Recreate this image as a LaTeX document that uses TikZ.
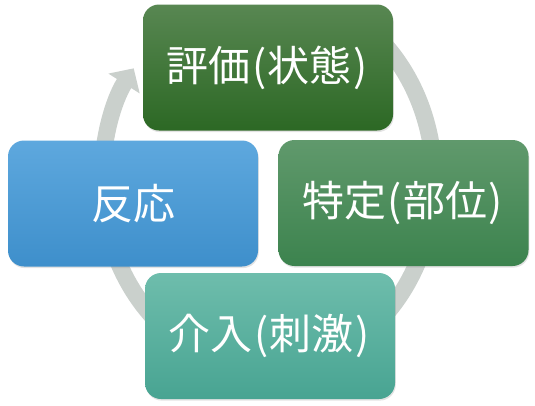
\documentclass[tikz,border=0pt]{standalone}
\usepackage{fontspec}
\newfontfamily\jpfont{Noto Sans CJK JP}
\usetikzlibrary{arrows.meta,shadows}
\definecolor{ringgray}{RGB}{202,208,204}
\definecolor{evaltop}{RGB}{88,135,82}
\definecolor{evalbot}{RGB}{44,104,36}
\definecolor{identtop}{RGB}{96,153,108}
\definecolor{identbot}{RGB}{60,131,78}
\definecolor{intertop}{RGB}{110,189,172}
\definecolor{interbot}{RGB}{72,164,146}
\definecolor{resptop}{RGB}{94,168,222}
\definecolor{respbot}{RGB}{62,143,203}
\newcommand\lpar{\kern1.5pt(\kern1.5pt}
\newcommand\rpar{\kern1.5pt)\kern1.5pt}
\begin{document}
\begin{tikzpicture}[x=1pt,y=-1pt,
  cyclebox/.style={rounded corners=16pt, minimum width=250pt, minimum height=126pt,
    inner sep=0pt, text=white, font=\jpfont\fontsize{42}{50}\selectfont,
    drop shadow={shadow xshift=0.8pt,shadow yshift=-1.6pt,opacity=0.22}},
  ringline/.style={draw=ringgray, line width=17pt}]
\useasboundingbox (0,0) rectangle (535,405);
\coordinate (c) at (268,180);
\draw[ringline, -{Triangle[length=18pt,width=36pt]}]
  (c) ++(-60:166 and 190) arc[start angle=-60,end angle=216,x radius=166,y radius=190];
\node[cyclebox, top color=evaltop, bottom color=evalbot] (eval) at (268,67.5)
  {\raisebox{3pt}{評価\lpar 状態\rpar}};
\node[cyclebox, top color=identtop, bottom color=identbot] (ident) at (403.5,203)
  {\raisebox{3pt}{特定\lpar 部位\rpar}};
\node[cyclebox, top color=intertop, bottom color=interbot] (inter) at (270,336)
  {\raisebox{3pt}{介入\lpar 刺激\rpar}};
\node[cyclebox, top color=resptop, bottom color=respbot] (resp) at (133,203.5)
  {\raisebox{3pt}{反応}};
\end{tikzpicture}
\end{document}
